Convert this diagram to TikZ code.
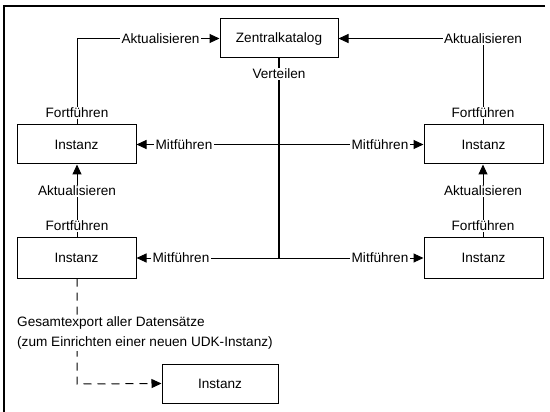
\documentclass[tikz,border=0pt]{standalone}
\usepackage{fontspec}
\setmainfont{Liberation Sans}
\usetikzlibrary{arrows.meta}
\begin{document}
\begin{tikzpicture}[x=1pt,y=-1pt,
  font=\fontsize{13.6}{20}\selectfont,
  box/.style={draw, line width=1pt, minimum width=119pt, minimum height=39pt, inner sep=0pt},
  lbl/.style={fill=white, inner sep=1.5pt},
  conn/.style={line width=1pt},
  arr/.style={conn, -{Triangle[length=10pt,width=9pt]}}]
\useasboundingbox (0,0) rectangle (550,412);
% frame (top and left only)
\draw[line width=1.5pt] (545,6) -- (4,6) -- (4,412);
% nodes
\node[box, minimum width=118pt] (zk) at (279,38.5) {Zentralkatalog};
\node[box] (il1) at (76.5,144.5) {Instanz};
\node[box] (ir1) at (483.5,144.5) {Instanz};
\node[box, minimum height=40pt] (il2) at (76.5,258) {Instanz};
\node[box, minimum height=40pt] (ir2) at (483.5,258) {Instanz};
\node[box, minimum width=116pt] (ib) at (220,383.5) {Instanz};
\coordinate (cl) at (77,38.5);
\coordinate (cr) at (483,38.5);
\coordinate (vb) at (279,258);
\coordinate (vm) at (279,144.5);
\coordinate (dc) at (77,384);
% top connections
\draw[arr] (il1.north -| cl) -- (cl) -- (zk.west);
\draw[arr] (ir1.north -| cr) -- (cr) -- (zk.east);
\node[lbl] (a1) at (160.5,38.5) {Aktualisieren};
\node[lbl] (a2) at (483,38.5) {Aktualisieren};
\node[lbl] (f1) at (77,113) {Fortführen};
\node[lbl] (f2) at (483,113) {Fortführen};
% Verteilen trunk
\draw[line width=1.6pt] (zk.south) -- (vb);
\node[lbl] (vt) at (279,74) {Verteilen};
% Mitführen
\draw[arr] (vm) -- (il1.east);
\draw[arr] (vm) -- (ir1.west);
\draw[arr] (vb) -- (il2.east);
\draw[arr] (vb) -- (ir2.west);
\node[lbl] (m1) at (184,144.5) {Mitführen};
\node[lbl] (m2) at (380,144.5) {Mitführen};
\node[lbl] (m3) at (181,258) {Mitführen};
\node[lbl] (m4) at (380,258) {Mitführen};
% vertical updates
\draw[arr] (il2.north -| cl) -- (il1.south -| cl);
\draw[arr] (ir2.north -| cr) -- (ir1.south -| cr);
\node[lbl] (a3) at (77,191) {Aktualisieren};
\node[lbl] (f3) at (77,226) {Fortführen};
\node[lbl] (a4) at (483,191) {Aktualisieren};
\node[lbl] (f4) at (483,226) {Fortführen};
% export
\draw[arr, dash pattern=on 8pt off 6pt] (il2.south -| cl) -- (dc) -- (ib.west);
\node[lbl, anchor=west, align=left] (ge) at (15.5,333) {Gesamtexport aller Datensätze\\(zum Einrichten einer neuen UDK-Instanz)};
\end{tikzpicture}
\end{document}
